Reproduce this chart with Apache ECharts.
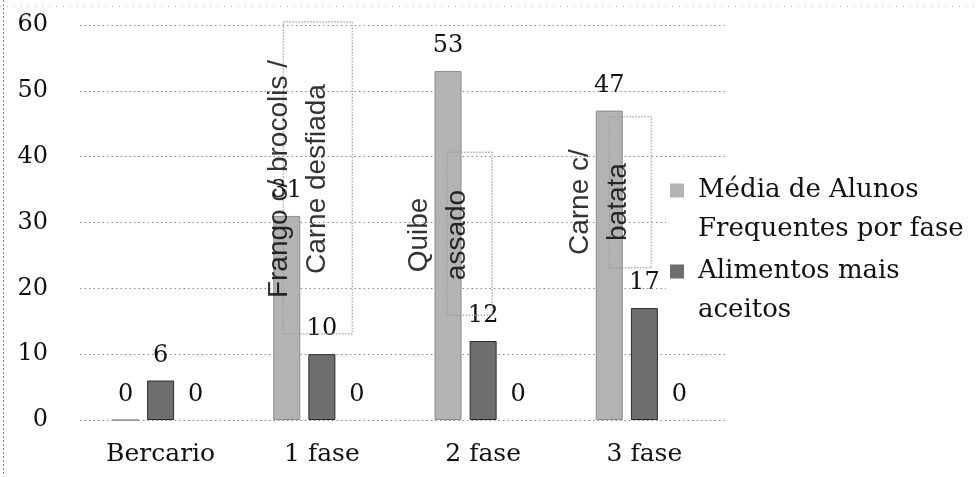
<!DOCTYPE html>
<html><head><meta charset="utf-8">
<script src="https://cdn.jsdelivr.net/npm/echarts@6/dist/echarts.min.js"></script>
<style>html,body{margin:0;padding:0;background:#fff}#c{width:976px;height:477px}</style>
</head><body><div id="c"></div>
<script>
// ---- data ----
const categories = ['Bercario', '1 fase', '2 fase', '3 fase'];
const mediaAlunos = [0, 31, 53, 47];
const alimentosAceitos = [6, 10, 12, 17];
const terceiraSerie = [0, 0, 0, 0];
const foodLabels = ['', 'Frango c/ brocolis /\nCarne desfiada', 'Quibe\nassado', 'Carne c/\nbatata'];
const seriesNames = ['Média de Alunos Frequentes por fase', 'Alimentos mais aceitos'];
const legendLabels = ['Média de Alunos\nFrequentes por fase', 'Alimentos mais\naceitos'];
const yMin = 0, yMax = 60, yStep = 10;

// ---- styling / annotation placement ----
const SERIF = 'DejaVu Serif';
const SANS = 'Liberation Sans';
// label offsets are in the rotated text frame: [along text, across lines]
const annotStyle = [
  null,
  { ty: 36.6, tdx: -24, by: 36.8, bdx: -4, w: 312, h: 69 },
  { ty: 28.1, tdx: -45, by: 28.3, bdx: -13.5, w: 163, h: 45 },
  { ty: 33.1, tdx: -45.5, by: 34.6, bdx: -14, w: 151, h: 42 }
];

const boxData = [], textData = [];
foodLabels.forEach((t, i) => {
  if (!t) return;
  const s = annotStyle[i];
  boxData.push({
    value: [categories[i], s.by],
    label: { show: true, position: 'inside', rotate: 90, formatter: ' ',
      width: s.w, height: s.h, align: 'center', verticalAlign: 'middle',
      borderColor: '#9a9a9a', borderWidth: 1.5, borderType: 'dotted',
      offset: [0, s.bdx] }
  });
  textData.push({
    value: [categories[i], s.ty],
    label: { show: true, position: 'inside', rotate: 90, formatter: t,
      offset: [0, s.tdx] }
  });
});

const barLabel = { show: true, position: 'top', distance: 13, color: '#111',
  fontFamily: SERIF, fontSize: 24 };

const chart = echarts.init(document.getElementById('c'), null, { renderer: 'canvas' });
chart.setOption({
  animation: false,
  backgroundColor: '#fff',
  grid: { left: 80, right: 251, top: 25, bottom: 57, containLabel: false },
  xAxis: {
    type: 'category', data: categories,
    axisLine: { show: false }, axisTick: { show: false },
    axisLabel: { color: '#111', fontFamily: SERIF, fontSize: 25, margin: 22 }
  },
  yAxis: {
    type: 'value', min: yMin, max: yMax, interval: yStep,
    axisLine: { show: false }, axisTick: { show: false },
    axisLabel: { color: '#111', fontFamily: SERIF, fontSize: 24, margin: 32 },
    splitLine: { show: true, lineStyle: { color: '#8a8a8a', type: [1.5, 3], width: 1 } }
  },
  legend: {
    data: [
      { name: seriesNames[0] },
      { name: seriesNames[1] }
    ],
    orient: 'vertical', left: 666, top: 167,
    padding: [4, 4], itemGap: 3,
    backgroundColor: '#fff',
    itemWidth: 14, itemHeight: 53,
    icon: 'path://M0,0h14v14h-14z M0,52.99h0.01v0.01h-0.01z',
    itemStyle: { borderWidth: 0 },
    formatter: n => legendLabels[seriesNames.indexOf(n)],
    textStyle: { fontFamily: SERIF, fontSize: 26, lineHeight: 39, color: '#111', padding: [0, 0, 0, 9] },
    selectedMode: false
  },
  graphic: [
    { type: 'line', shape: { x1: 3.5, y1: 0, x2: 3.5, y2: 477 },
      style: { stroke: '#888', lineWidth: 1, lineDash: [2, 2] }, silent: true },
    { type: 'line', shape: { x1: 0, y1: 6.5, x2: 976, y2: 6.5 },
      style: { stroke: '#bbb', lineWidth: 1, lineDash: [1, 6] }, silent: true }
  ],
  series: [
    { name: seriesNames[0], type: 'bar', data: mediaAlunos, barWidth: 27, barGap: '30%',
      itemStyle: { color: '#b3b3b3', borderColor: '#8c8c8c', borderWidth: 1 },
      label: barLabel, z: 2 },
    { name: seriesNames[1], type: 'bar', data: alimentosAceitos, barWidth: 27, barGap: '30%',
      itemStyle: { color: '#6e6e6e', borderColor: '#2a2a2a', borderWidth: 1 },
      label: barLabel, z: 2 },
    { name: 'Série 3', type: 'bar', data: terceiraSerie, barWidth: 27, barGap: '30%',
      itemStyle: { color: '#999' },
      label: barLabel, z: 2 },
    { name: 'annotBox', type: 'scatter', data: boxData, symbolSize: 0, z: 5, silent: true,
      label: { color: '#000' } },
    { name: 'annotText', type: 'scatter', data: textData, symbolSize: 0, z: 6, silent: true,
      label: { color: '#000', fontFamily: SANS, fontSize: 28, lineHeight: 38, align: 'center' } }
  ]
});
</script>
</body></html>
